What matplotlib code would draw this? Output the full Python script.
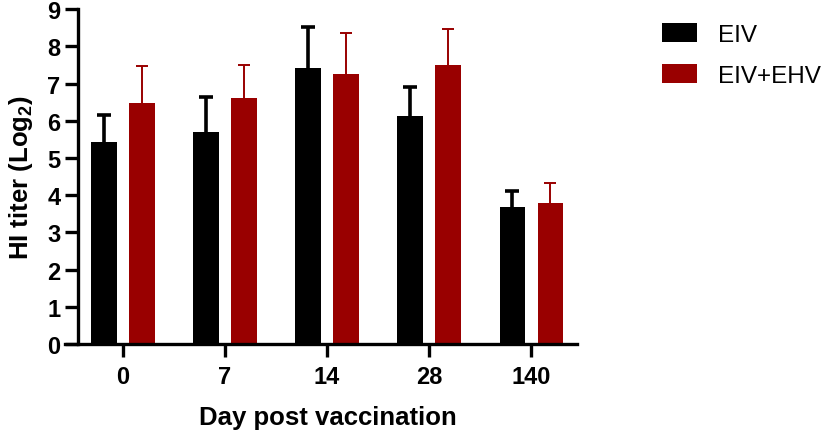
import numpy as np
import matplotlib
matplotlib.use('Agg')
import matplotlib.pyplot as plt

plt.rcParams['font.family'] = 'Liberation Sans'
plt.rcParams['mathtext.fontset'] = 'custom'
plt.rcParams['mathtext.rm'] = 'Liberation Sans'
plt.rcParams['mathtext.bf'] = 'Liberation Sans:bold'

# data
days = ['0', '7', '14', '28', '140']
eiv = [5.42, 5.70, 7.41, 6.13, 3.67]
eiv_err = [0.74, 0.94, 1.10, 0.79, 0.43]
eiv_ehv = [6.47, 6.61, 7.26, 7.50, 3.78]
eiv_ehv_err = [0.99, 0.88, 1.11, 0.97, 0.54]

black = '#000000'
red = '#990000'

fig = plt.figure(figsize=(8.27, 4.39), dpi=100)
ax = fig.add_axes([0.0943, 0.214, 0.698 - 0.0943, 0.977 - 0.214])

x = np.arange(len(days))
w = 0.25
off = 0.186

ax.bar(x - off, eiv, width=w, color=black, label='EIV', zorder=2)
ax.bar(x + off, eiv_ehv, width=w, color=red, label='EIV+EHV', zorder=2)

# symmetric bars drawn behind the columns, so only the upper half shows
ax.errorbar(x - off, eiv, yerr=eiv_err, fmt='none',
            ecolor=black, elinewidth=2.6, capsize=5, capthick=2.6, zorder=1)
ax.errorbar(x + off, eiv_ehv, yerr=eiv_ehv_err, fmt='none',
            ecolor=red, elinewidth=1.4, capsize=4, capthick=1.4, zorder=1)

ax.set_xlim(-0.44, 4.45)
ax.set_ylim(0, 9)
ax.set_yticks(range(10))
ax.set_xticks(x)
ax.set_xticklabels(days)

for s in ['top', 'right']:
    ax.spines[s].set_visible(False)
for s in ['left', 'bottom']:
    ax.spines[s].set_linewidth(2.4)
ax.spines['bottom'].set_bounds(-0.44 - 0.127, 4.45)

ax.tick_params(axis='y', length=9.5, width=2.4, pad=3, labelsize=17)
ax.tick_params(axis='x', length=9, width=2.4, pad=6, labelsize=17)
for lab in ax.get_xticklabels() + ax.get_yticklabels():
    lab.set_fontweight('bold')

ax.set_xlabel('Day post vaccination', fontsize=18.5, fontweight='bold', labelpad=12)
ax.set_ylabel(r'HI titer (Log$_{\mathbf{2}}$)', fontsize=18.5, fontweight='bold', labelpad=9)

fig.legend(loc='upper left', bbox_to_anchor=(650 / 827, 1 - 12 / 439), frameon=False,
           fontsize=17.5, handlelength=1.45, handleheight=0.8, handletextpad=0.85,
           labelspacing=0.75, borderpad=0)

fig.savefig('out.png', dpi=100)
